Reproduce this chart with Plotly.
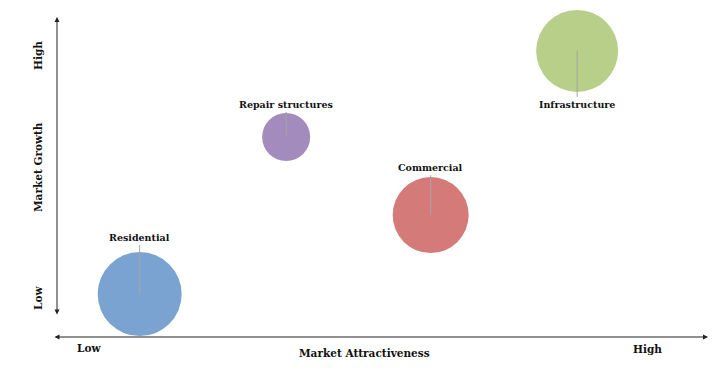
import plotly.graph_objects as go

# Data
segments = ["Residential", "Repair structures", "Commercial", "Infrastructure"]
attractiveness = [1.27, 3.52, 5.74, 7.99]   # x (0-10 scale)
growth = [1.34, 6.25, 3.81, 8.94]           # y (0-10 scale)
bubble_size = [84, 48, 76, 82]
colors = ["#7BA3D2", "#A38BBD", "#D47B7A", "#B7CF89"]
label_offset = [-57, -33, -48, 54]          # label vertical offset (px)
x_ticks = ["Low", "High"]
y_ticks = ["Low", "High"]
x_title = "Market Attractiveness"
y_title = "Market Growth"

FONT = "DejaVu Serif"
W, H = 722, 370
L, R, T, B = 57, 14, 17, 33
pw, ph = W - L - R, H - T - B

def px(x):
    return (x - L) / pw

def py(y):
    return (H - B - y) / ph

fig = go.Figure()
fig.add_trace(go.Scatter(
    x=attractiveness, y=growth, mode="markers", cliponaxis=False,
    marker=dict(size=bubble_size, sizemode="diameter", color=colors,
                opacity=1, line=dict(width=0)),
    hoverinfo="text", text=segments, showlegend=False,
))

ann = []
for s, x, y, off in zip(segments, attractiveness, growth, label_offset):
    ann.append(dict(x=x, y=y, xref="x", yref="y", text="<b>%s</b>" % s,
                    showarrow=True, arrowhead=0, arrowwidth=1, arrowcolor="#A6A6A6",
                    ax=0, ay=off, standoff=0, startstandoff=1,
                    font=dict(family=FONT, size=9.5, color="#111")))

# axis arrows
ann.append(dict(x=px(57), y=py(17), xref="paper", yref="paper", ax=0, ay=299,
                text="", showarrow=True, arrowhead=2, arrowside="end+start",
                arrowsize=1, arrowwidth=1, arrowcolor="#222"))
ann.append(dict(x=px(708), y=py(337), xref="paper", yref="paper", ax=-655, ay=0,
                text="", showarrow=True, arrowhead=2, arrowside="end+start",
                arrowsize=1, arrowwidth=1, arrowcolor="#222"))

# axis labels
lab_font = dict(family=FONT, size=10.5, color="#111")

def label(x, y, t, angle=0):
    ann.append(dict(x=px(x), y=py(y), xref="paper", yref="paper", text="<b>%s</b>" % t,
                    xanchor="center", yanchor="middle", showarrow=False,
                    textangle=angle, font=lab_font))

label(89, 348, x_ticks[0])
label(647, 349, x_ticks[1])
label(364, 353, x_title)
label(38, 298, y_ticks[0], -90)
label(38, 56, y_ticks[1], -90)
label(38, 167, y_title, -90)

fig.update_layout(
    width=W, height=H, margin=dict(l=L, r=R, t=T, b=B),
    paper_bgcolor="white", plot_bgcolor="white",
    xaxis=dict(range=[0, 10], visible=False, fixedrange=True),
    yaxis=dict(range=[0, 10], visible=False, fixedrange=True),
    annotations=ann,
)
fig.write_html("out.html", config={"displayModeBar": False},
               post_script="document.body.style.margin='0';")
